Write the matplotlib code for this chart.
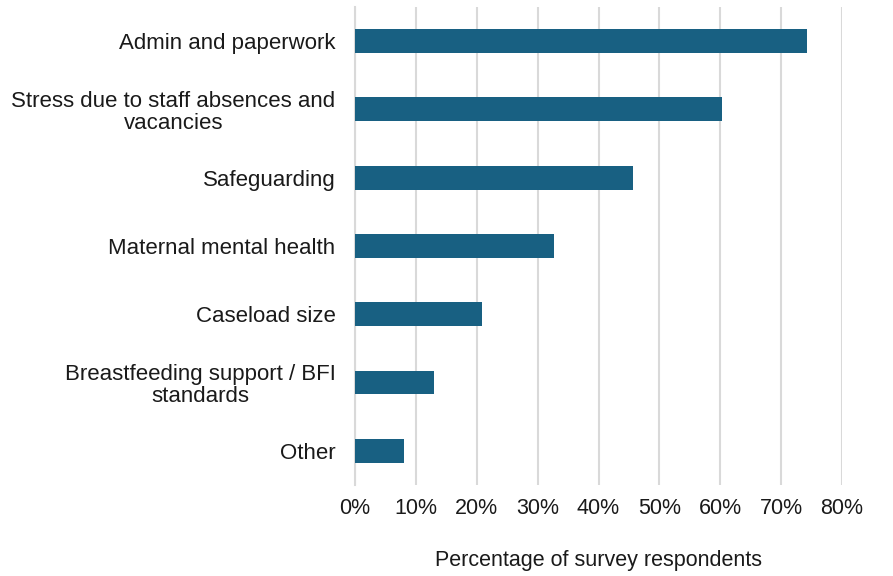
import numpy as np
import matplotlib.pyplot as plt
from matplotlib.ticker import PercentFormatter

plt.rcParams['font.family'] = ['Liberation Sans', 'DejaVu Sans']

# Problemas señalados por los encuestados (de arriba hacia abajo)
categorias = [
    "Admin and paperwork",
    "Stress due to staff absences and\nvacancies",
    "Safeguarding",
    "Maternal mental health",
    "Caseload size",
    "Breastfeeding support / BFI\nstandards",
    "Other",
]
porcentajes = [74.2, 60.2, 45.6, 32.7, 20.9, 12.9, 8.1]

COLOR_BARRA = '#186082'
COLOR_GRID = '#D9D9D9'

fig = plt.figure(figsize=(8.93, 5.76), dpi=100)
ax = fig.add_axes([0.3975, 0.158, 0.5455, 0.830])

y = np.arange(len(categorias))
ax.barh(y, porcentajes, height=0.35, color=COLOR_BARRA, zorder=3)

ax.set_xlim(0, 80)
ax.set_ylim(len(categorias) - 0.5, -0.5)
ax.set_xticks(np.arange(0, 81, 10))
ax.xaxis.set_major_formatter(PercentFormatter(decimals=0))
ax.set_yticks(y)
ax.set_yticklabels(categorias, ma='center', linespacing=1.05)

ax.grid(axis='x', color=COLOR_GRID, linewidth=1.5, zorder=0)
for lado in ['top', 'right', 'bottom']:
    ax.spines[lado].set_visible(False)
ax.spines['left'].set_color(COLOR_GRID)
ax.spines['left'].set_linewidth(1.5)

ax.tick_params(axis='y', length=0, pad=14, labelsize=16, labelcolor='#1a1a1a')
ax.tick_params(axis='x', length=0, pad=9.5, labelsize=15.5, labelcolor='#1a1a1a')
ax.set_xlabel("Percentage of survey respondents", fontsize=15.5, color='#1a1a1a', labelpad=22)

plt.savefig("out.png", dpi=100)
